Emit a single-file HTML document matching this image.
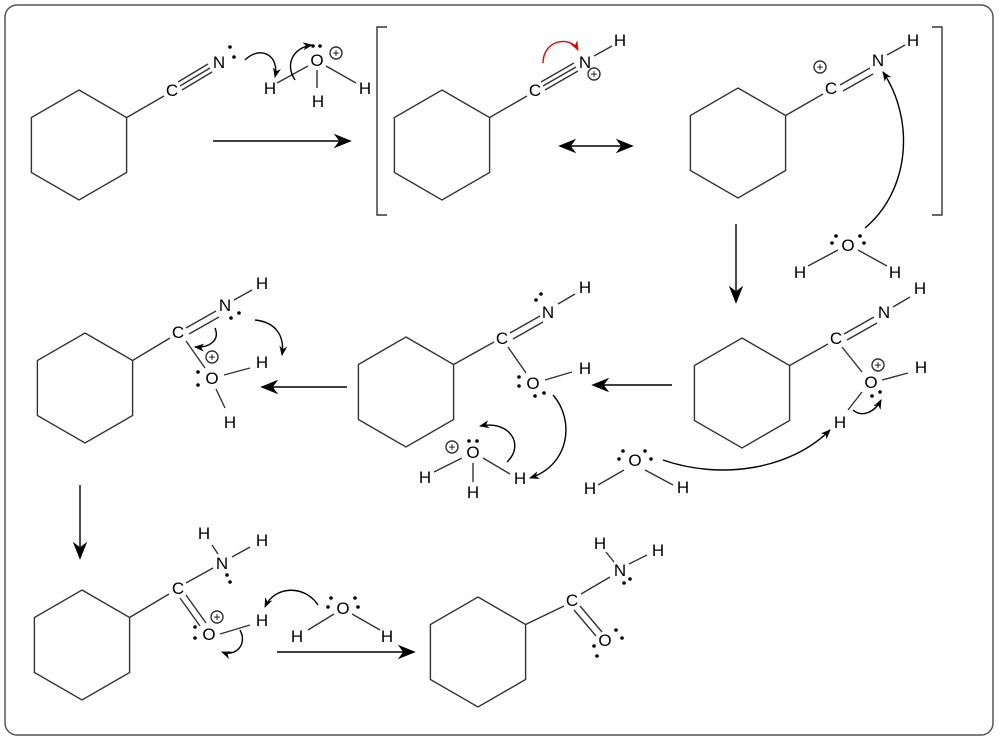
<!DOCTYPE html>
<html><head><meta charset="utf-8"><style>
html,body{margin:0;padding:0;background:#fff;}
svg{display:block;}
text{font-family:"Liberation Sans",sans-serif;font-size:17px;fill:#000;text-anchor:middle;}
.p{font-size:12px;}
</style></head><body>
<svg width="1000" height="740" viewBox="0 0 1000 740" xmlns="http://www.w3.org/2000/svg">
<defs>
<marker id="a" viewBox="0 0 10 10" refX="9" refY="5" markerWidth="10" markerHeight="10" markerUnits="userSpaceOnUse" orient="auto"><path d="M0,1 L10,5 L0,9 L3,5 z" fill="#000"/></marker>
<marker id="ab" viewBox="0 0 10 10" refX="9" refY="5" markerWidth="22" markerHeight="18" markerUnits="userSpaceOnUse" orient="auto"><path d="M0,1 L10,5 L0,9 L3,5 z" fill="#000"/></marker>
<marker id="abs" viewBox="0 0 10 10" refX="1" refY="5" markerWidth="22" markerHeight="18" markerUnits="userSpaceOnUse" orient="auto"><path d="M10,1 L0,5 L10,9 L7,5 z" fill="#000"/></marker>
<marker id="ar" viewBox="0 0 10 10" refX="9" refY="5" markerWidth="10" markerHeight="10" markerUnits="userSpaceOnUse" orient="auto"><path d="M0,1 L10,5 L0,9 L3,5 z" fill="#e00"/></marker>
</defs>
<rect x="5" y="5" width="988" height="730" rx="12" fill="#fff" stroke="#555" stroke-width="1.5"/>
<g fill="none" stroke="#333" stroke-width="1.4">
<!-- hexagons -->
<polygon points="79,90 126.6,117.5 126.6,172.5 79,200 31.4,172.5 31.4,117.5"/>
<polygon points="442,90 489.6,117.5 489.6,172.5 442,200 394.4,172.5 394.4,117.5"/>
<polygon points="738,88 785.6,115.5 785.6,170.5 738,198 690.4,170.5 690.4,115.5"/>
<polygon points="85,333 132.6,360.5 132.6,415.5 85,443 37.4,415.5 37.4,360.5"/>
<polygon points="406,337 453.6,364.5 453.6,419.5 406,447 358.4,419.5 358.4,364.5"/>
<polygon points="742,338 789.6,365.5 789.6,420.5 742,448 694.4,420.5 694.4,365.5"/>
<polygon points="82,590 129.6,617.5 129.6,672.5 82,700 34.4,672.5 34.4,617.5"/>
<polygon points="478,597 525.6,624.5 525.6,679.5 478,707 430.4,679.5 430.4,624.5"/>
<!-- S1 -->
<line x1="126.6" y1="117.5" x2="164" y2="96"/>
<line x1="180" y1="86" x2="210" y2="68"/><line x1="178" y1="82" x2="208" y2="64"/><line x1="182" y1="90" x2="212" y2="72"/>
<line x1="277" y1="83" x2="308" y2="66"/><line x1="317" y1="70" x2="317" y2="88"/><line x1="326" y1="66" x2="356" y2="83"/>
<!-- brackets -->
<polyline points="387,27 377,27 377,215 387,215"/>
<polyline points="932,27 942,27 942,215 932,215"/>
<!-- S2 -->
<line x1="489.6" y1="117.5" x2="527" y2="96"/>
<line x1="543" y1="86" x2="576" y2="67"/><line x1="541" y1="82" x2="574" y2="63"/><line x1="545" y1="90" x2="578" y2="71"/>
<line x1="594" y1="56" x2="612" y2="46"/>
<!-- S3 -->
<line x1="785.6" y1="115.5" x2="823" y2="94"/>
<line x1="840" y1="85" x2="870" y2="68"/><line x1="843" y1="91" x2="873" y2="74"/>
<line x1="887" y1="55" x2="905" y2="45"/>
<line x1="808" y1="266" x2="838" y2="250"/><line x1="858" y1="250" x2="887" y2="266"/>
<!-- S6 -->
<line x1="789.6" y1="365.5" x2="828" y2="344"/>
<line x1="844" y1="334" x2="874" y2="317"/><line x1="847" y1="340" x2="877" y2="323"/>
<line x1="893" y1="307" x2="910" y2="297"/>
<line x1="842" y1="347" x2="862" y2="372"/>
<line x1="882" y1="380" x2="908" y2="373"/>
<line x1="862" y1="392" x2="848" y2="410"/>
<line x1="598" y1="485" x2="624" y2="470"/><line x1="645" y1="470" x2="673" y2="485"/>
<!-- S5 -->
<line x1="453.6" y1="364.5" x2="494" y2="342"/>
<line x1="510" y1="333" x2="540" y2="316"/><line x1="513" y1="339" x2="543" y2="322"/>
<line x1="558" y1="304" x2="575" y2="294"/>
<line x1="508" y1="347" x2="526" y2="373"/>
<line x1="545" y1="380" x2="572" y2="372"/>
<line x1="434" y1="472" x2="462" y2="458"/><line x1="473" y1="463" x2="473" y2="482"/><line x1="483" y1="458" x2="510" y2="474"/>
<!-- S4 -->
<line x1="132.6" y1="360.5" x2="170" y2="338"/>
<line x1="186" y1="328" x2="216" y2="311"/><line x1="189" y1="334" x2="219" y2="317"/>
<line x1="234" y1="300" x2="252" y2="290"/>
<line x1="186" y1="341" x2="205" y2="368"/>
<line x1="224" y1="375" x2="250" y2="368"/>
<line x1="216" y1="389" x2="225" y2="408"/>
<!-- S7 -->
<line x1="129.6" y1="617.5" x2="169" y2="594"/>
<line x1="186" y1="583" x2="213" y2="568"/>
<line x1="212" y1="545" x2="218" y2="554"/><line x1="232" y1="557" x2="250" y2="547"/>
<line x1="180" y1="598" x2="200" y2="626"/><line x1="186" y1="595" x2="206" y2="623"/>
<line x1="220" y1="634" x2="250" y2="625"/>
<line x1="308" y1="630" x2="334" y2="614"/><line x1="352" y1="614" x2="380" y2="630"/>
<!-- S8 -->
<line x1="525.6" y1="624.5" x2="564" y2="606"/>
<line x1="581" y1="594" x2="610" y2="577"/>
<line x1="606" y1="552" x2="614" y2="562"/><line x1="629" y1="564" x2="647" y2="555"/>
<line x1="574" y1="610" x2="596" y2="636"/><line x1="580" y1="606" x2="602" y2="632"/>
<!-- plus circles -->
<circle cx="336" cy="53" r="6"/><circle cx="594" cy="74" r="6"/><circle cx="820" cy="67" r="6"/>
<circle cx="878" cy="365" r="6"/><circle cx="452" cy="447" r="6"/><circle cx="212" cy="357" r="6"/>
<circle cx="217" cy="617" r="6"/>
</g>
<g fill="none" stroke="#000" stroke-width="1.4">
<!-- reaction arrows -->
<line x1="213" y1="141" x2="350" y2="141" marker-end="url(#ab)"/>
<line x1="560" y1="146" x2="632" y2="146" marker-end="url(#ab)" marker-start="url(#abs)"/>
<line x1="736" y1="224" x2="736" y2="302" marker-end="url(#ab)"/>
<line x1="672" y1="385" x2="593" y2="385" marker-end="url(#ab)"/>
<line x1="347" y1="387" x2="262" y2="387" marker-end="url(#ab)"/>
<line x1="80" y1="485" x2="80" y2="558" marker-end="url(#ab)"/>
<line x1="277" y1="652" x2="414" y2="652" marker-end="url(#ab)"/>
<!-- curved mechanism arrows -->
<path d="M245,60 C260,45 280,55 275,77" marker-end="url(#a)"/>
<path d="M295,80 C285,65 292,48 312,45" marker-end="url(#a)"/>
<path d="M543,63 C543,40 570,35 578,50" stroke="#e00" marker-end="url(#ar)"/>
<path d="M865,228 C910,190 915,120 883,72" marker-end="url(#a)"/>
<path d="M663,460 C720,480 790,470 830,430" marker-end="url(#a)"/>
<path d="M853,410 C862,418 875,412 881,400" marker-end="url(#a)"/>
<path d="M553,395 C575,420 570,465 530,478" marker-end="url(#a)"/>
<path d="M507,462 C525,445 510,420 480,426" marker-end="url(#a)"/>
<path d="M215,328 C220,340 210,348 195,347" marker-end="url(#a)"/>
<path d="M255,320 C275,322 285,335 282,355" marker-end="url(#a)"/>
<path d="M318,605 C305,585 275,585 265,607" marker-end="url(#a)"/>
<path d="M240,630 C248,645 235,657 222,652" marker-end="url(#a)"/>
</g>
<!-- labels -->
<text x="172" y="96">C</text><text x="219" y="68">N</text>
<text x="270" y="94">H</text><text x="317" y="66">O</text><text x="318" y="107">H</text><text x="365" y="94">H</text>
<text x="535" y="96">C</text><text x="585" y="68">N</text><text x="620" y="46">H</text>
<text x="831" y="94">C</text><text x="878" y="66">N</text><text x="913" y="46">H</text>
<text x="848" y="251">O</text><text x="800" y="278">H</text><text x="895" y="278">H</text>
<text x="836" y="344">C</text><text x="884" y="318">N</text><text x="920" y="294">H</text>
<text x="871" y="388">O</text><text x="921" y="373">H</text><text x="840" y="428">H</text>
<text x="635" y="466">O</text><text x="590" y="494">H</text><text x="683" y="493">H</text>
<text x="502" y="344">C</text><text x="548" y="318">N</text><text x="585" y="293">H</text>
<text x="533" y="389">O</text><text x="585" y="374">H</text>
<text x="473" y="458">O</text><text x="425" y="483">H</text><text x="473" y="498">H</text><text x="520" y="484">H</text>
<text x="178" y="338">C</text><text x="225" y="311">N</text><text x="262" y="289">H</text>
<text x="212" y="384">O</text><text x="262" y="368">H</text><text x="230" y="428">H</text>
<text x="178" y="594">C</text><text x="222" y="569">N</text><text x="204" y="539">H</text><text x="262" y="546">H</text>
<text x="209" y="640">O</text><text x="262" y="626">H</text>
<text x="343" y="614">O</text><text x="297" y="642">H</text><text x="387" y="642">H</text>
<text x="572" y="606">C</text><text x="620" y="576">N</text><text x="600" y="549">H</text><text x="658" y="556">H</text>
<text x="605" y="646">O</text>
<!-- pluses -->
<text class="p" x="336" y="57">+</text><text class="p" x="594" y="78">+</text><text class="p" x="820" y="71">+</text>
<text class="p" x="878" y="369">+</text><text class="p" x="452" y="451">+</text><text class="p" x="212" y="361">+</text>
<text class="p" x="217" y="621">+</text>
<!-- lone pair dots -->
<g fill="#000">
<circle cx="230" cy="47" r="1.8"/><circle cx="234" cy="57" r="1.8"/>
<circle cx="313" cy="46" r="1.8"/><circle cx="320" cy="46" r="1.8"/>
<circle cx="832" cy="243" r="1.8"/><circle cx="836" cy="236" r="1.8"/><circle cx="860" cy="236" r="1.8"/><circle cx="864" cy="243" r="1.8"/>
<circle cx="872" cy="396" r="1.8"/><circle cx="880" cy="392" r="1.8"/>
<circle cx="619" cy="459" r="1.8"/><circle cx="623" cy="451" r="1.8"/><circle cx="645" cy="451" r="1.8"/><circle cx="651" cy="459" r="1.8"/>
<circle cx="536" cy="300" r="1.8"/><circle cx="541" cy="294" r="1.8"/>
<circle cx="519" cy="377" r="1.8"/><circle cx="519" cy="386" r="1.8"/><circle cx="535" cy="396" r="1.8"/><circle cx="544" cy="393" r="1.8"/>
<circle cx="469" cy="441" r="1.8"/><circle cx="477" cy="441" r="1.8"/>
<circle cx="231" cy="318" r="1.8"/><circle cx="239" cy="313" r="1.8"/>
<circle cx="198" cy="372" r="1.8"/><circle cx="198" cy="385" r="1.8"/>
<circle cx="227" cy="575" r="1.8"/><circle cx="230" cy="582" r="1.8"/>
<circle cx="195" cy="627" r="1.8"/><circle cx="195" cy="638" r="1.8"/>
<circle cx="328" cy="607" r="1.8"/><circle cx="331" cy="598" r="1.8"/><circle cx="355" cy="598" r="1.8"/><circle cx="358" cy="607" r="1.8"/>
<circle cx="624" cy="583" r="1.8"/><circle cx="630" cy="579" r="1.8"/>
<circle cx="594" cy="646" r="1.8"/><circle cx="597" cy="656" r="1.8"/><circle cx="616" cy="630" r="1.8"/><circle cx="622" cy="638" r="1.8"/>
</g>
</svg>
</body></html>
